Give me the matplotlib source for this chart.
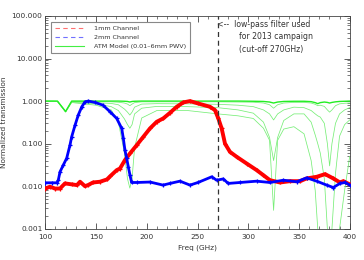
"""
Filter transmission of the 1mm and 2mm channels against ATM model
atmospheric transmission curves (0.01-6 mm PWV).
"""

import matplotlib
import matplotlib.pyplot as plt
from matplotlib.lines import Line2D
from matplotlib.ticker import FixedLocator, LogLocator, MultipleLocator, NullFormatter

matplotlib.use("Agg")

# ---------------------------------------------------------------------------
# Data
# ---------------------------------------------------------------------------

# 2mm channel (blue)
FREQ_2MM = [100.0, 106.6, 111.5, 112.8, 114.5, 117.7, 121.1, 124.3, 126.0, 129.3,
            132.5, 135.9, 139.1, 142.4, 149.0, 156.9, 163.8, 170.4, 175.3, 176.9,
            178.5, 180.2, 181.8, 183.5, 185.1, 190.1, 203.2, 216.0, 222.9, 232.7,
            242.6, 250.5, 264.0, 268.9, 275.4, 280.3, 291.9, 308.3, 321.4, 334.6,
            347.8, 357.6, 367.5, 377.3, 383.8, 390.4, 395.4, 400.0]
TRANS_2MM = [0.012, 0.012, 0.012, 0.0138, 0.0217, 0.0312, 0.0456, 0.092, 0.145, 0.27,
             0.47, 0.73, 0.96, 1.0, 0.93, 0.80, 0.56, 0.39, 0.228, 0.1325,
             0.070, 0.045, 0.0285, 0.018, 0.0122, 0.0122, 0.0125, 0.0106, 0.0116, 0.0131,
             0.0106, 0.0122, 0.0166, 0.0138, 0.0148, 0.0116, 0.0122, 0.0131, 0.0122, 0.0138,
             0.0127, 0.0157, 0.0131, 0.0106, 0.0093, 0.0116, 0.0122, 0.0106]

# 1mm channel (red)
FREQ_1MM = [100.0, 104.6, 109.6, 114.5, 119.4, 126.3, 131.2, 134.2, 139.1, 142.1,
            147.0, 153.9, 160.8, 163.8, 170.4, 173.6, 178.5, 183.5, 190.1, 196.6,
            203.2, 209.8, 216.3, 222.9, 229.5, 236.0, 242.6, 250.5, 262.3, 267.2,
            270.5, 273.8, 277.1, 282.0, 288.6, 298.5, 308.3, 314.8, 321.4, 331.3,
            341.1, 351.0, 357.6, 367.5, 375.7, 383.8, 390.4, 393.7, 400.0]
TRANS_1MM = [0.0088, 0.0097, 0.0088, 0.0088, 0.0116, 0.011, 0.0106, 0.0127, 0.010, 0.0106,
             0.0122, 0.0127, 0.0144, 0.017, 0.0238, 0.026, 0.041, 0.059, 0.092, 0.1445,
             0.228, 0.326, 0.392, 0.53, 0.734, 0.93, 1.0, 0.88, 0.734, 0.614,
             0.392, 0.228, 0.10, 0.064, 0.049, 0.034, 0.0238, 0.0182, 0.0138, 0.0122,
             0.0131, 0.0131, 0.0152, 0.0166, 0.0192, 0.0152, 0.0122, 0.0131, 0.011]

# ATM model curves (one per PWV value, 0.01 ... 6 mm)
FREQ_ATM = [100, 108, 112, 120, 126, 130, 150, 165, 172, 178,
            181, 183.3, 185.5, 188, 195, 210, 240, 270, 290, 305,
            315, 321, 325, 329, 335, 345, 355, 362, 366, 368.5,
            371, 375, 378, 380.2, 382.5, 386, 390, 395, 400]
ATM_PWV_A = [1.0, 1.0, 1.0, 0.57, 1.0, 1.0, 1.0, 1.0, 1.0, 0.99,
             0.98, 0.95, 0.98, 0.99, 1.0, 1.0, 1.0, 1.0, 1.0, 0.99,
             0.98, 0.95, 0.9, 0.95, 0.98, 0.99, 0.99, 0.97, 0.92, 0.87,
             0.92, 0.95, 0.93, 0.9, 0.93, 0.96, 0.98, 0.99, 1.0]
ATM_PWV_B = [1.0, 1.0, 0.99, 0.57, 0.99, 0.99, 0.98, 0.96, 0.94, 0.9,
             0.85, 0.78, 0.85, 0.92, 0.96, 0.96, 0.96, 0.96, 0.95, 0.94,
             0.9, 0.82, 0.68, 0.82, 0.9, 0.93, 0.93, 0.9, 0.84, 0.78,
             0.8, 0.75, 0.62, 0.55, 0.62, 0.78, 0.86, 0.89, 0.9]
ATM_PWV_C = [0.99, 0.99, 0.99, 0.56, 0.97, 0.96, 0.92, 0.88, 0.82, 0.65,
             0.55, 0.47, 0.55, 0.72, 0.85, 0.87, 0.86, 0.84, 0.8, 0.74,
             0.62, 0.5, 0.36, 0.5, 0.62, 0.72, 0.7, 0.6, 0.5, 0.45,
             0.42, 0.3, 0.1, 0.03, 0.1, 0.3, 0.5, 0.62, 0.7]
ATM_PWV_D = [0.99, 0.98, 0.98, 0.56, 0.95, 0.93, 0.86, 0.74, 0.6, 0.38,
             0.28, 0.23, 0.28, 0.5, 0.68, 0.75, 0.74, 0.7, 0.62, 0.52,
             0.32, 0.14, 0.04, 0.14, 0.35, 0.5, 0.5, 0.32, 0.16, 0.1,
             0.06, 0.015, 0.001, 0.0003, 0.001, 0.02, 0.15, 0.28, 0.36]
ATM_PWV_E = [0.98, 0.98, 0.97, 0.55, 0.93, 0.9, 0.8, 0.62, 0.32, 0.06,
             0.015, 0.009, 0.015, 0.08, 0.4, 0.6, 0.6, 0.5, 0.45, 0.39,
             0.23, 0.12, 0.0027, 0.12, 0.22, 0.25, 0.17, 0.04, 0.008, 0.001,
             0.0002, 0.0001, 0.0001, 0.0001, 0.0001, 0.0001, 0.001, 0.008, 0.05]

ATM_CURVES = [ATM_PWV_E, ATM_PWV_D, ATM_PWV_C, ATM_PWV_B, ATM_PWV_A]

CUTOFF_GHZ = 270.0
Y_TICKS = [0.001, 0.01, 0.1, 1.0, 10.0, 100.0]
Y_TICK_LABELS = ["0.001", "0.010", "0.100", "1.000", "10.000", "100.000"]
X_TICKS = [100, 150, 200, 250, 300, 350, 400]

TEXT_COLOR = "#333333"
FONT_SIZE = 5.3


def main() -> None:
    fig = plt.figure(figsize=(3.64, 2.60), dpi=100)
    ax = fig.add_axes([45.3 / 364, 1 - 228.7 / 260, 304.4 / 364, 212.7 / 260])

    # ATM curves: thin pale lines, the driest one drawn brighter on top
    for i, trans in enumerate(ATM_CURVES):
        top = i == len(ATM_CURVES) - 1
        ax.plot(FREQ_ATM, trans, color="#22ee22" if top else "#77ee77",
                linewidth=1.0 if top else 0.55, zorder=2)

    ax.plot(FREQ_1MM, TRANS_1MM, color="#ff0000", linewidth=2.8,
            marker="+", markersize=3.2, markeredgewidth=0.9, zorder=3)
    ax.plot(FREQ_2MM, TRANS_2MM, color="#0000ff", linewidth=2.0,
            marker="+", markersize=3.2, markeredgewidth=0.9, zorder=4)

    ax.axvline(CUTOFF_GHZ, color="#333333", linestyle=(0, (4, 3)), linewidth=0.9, zorder=5)

    ax.set_yscale("log")
    ax.set_xlim(100, 400)
    ax.set_ylim(0.001, 100)

    ax.xaxis.set_major_locator(FixedLocator(X_TICKS))
    ax.xaxis.set_minor_locator(MultipleLocator(10))
    ax.yaxis.set_major_locator(FixedLocator(Y_TICKS))
    ax.set_yticklabels(Y_TICK_LABELS)
    ax.yaxis.set_minor_locator(LogLocator(base=10, subs=range(2, 10)))
    ax.yaxis.set_minor_formatter(NullFormatter())

    ax.tick_params(which="both", direction="in", top=True, right=True,
                   colors="#444444", labelcolor=TEXT_COLOR, labelsize=FONT_SIZE)
    ax.tick_params(which="major", length=4.5, width=0.6)
    ax.tick_params(which="minor", length=2.2, width=0.5)
    ax.tick_params(axis="x", pad=4)
    ax.tick_params(axis="y", pad=2)
    for spine in ax.spines.values():
        spine.set_color("#444444")
        spine.set_linewidth(0.6)

    ax.set_xlabel("Freq (GHz)", fontsize=FONT_SIZE, color=TEXT_COLOR, labelpad=3)
    ax.set_ylabel("Normalized transmission", fontsize=FONT_SIZE, color=TEXT_COLOR, labelpad=3)

    # Note next to the low-pass cut-off line
    trans_blend = ax.get_xaxis_transform()
    note_size = 5.6
    ax.text(CUTOFF_GHZ - 0.5, 0.958, "<--  low-pass filter used", transform=trans_blend,
            fontsize=note_size, color=TEXT_COLOR, ha="left", va="center")
    ax.text(291.0, 0.902, "for 2013 campaign", transform=trans_blend,
            fontsize=note_size, color=TEXT_COLOR, ha="left", va="center")
    ax.text(291.0, 0.841, "(cut-off 270GHz)", transform=trans_blend,
            fontsize=note_size, color=TEXT_COLOR, ha="left", va="center")

    handles = [
        Line2D([], [], color="#ff7070", linestyle=(0, (4, 3)), linewidth=0.8),
        Line2D([], [], color="#7070ff", linestyle=(0, (4, 3)), linewidth=0.8),
        Line2D([], [], color="#44ee44", linewidth=0.8),
    ]
    labels = ["1mm Channel", "2mm Channel", "ATM Model (0.01\u20136mm PWV)"]
    leg = ax.legend(handles, labels, loc="upper left", bbox_to_anchor=(0.0177, 0.973),
                    borderaxespad=0, fontsize=4.6, handlelength=4.6,
                    handletextpad=1.6, labelspacing=0.55, borderpad=0.6,
                    fancybox=False, framealpha=1.0, edgecolor="#888888")
    leg.get_frame().set_linewidth(0.8)
    for txt in leg.get_texts():
        txt.set_color(TEXT_COLOR)

    fig.savefig("out.png", dpi=100)
    plt.close(fig)


if __name__ == "__main__":
    main()
